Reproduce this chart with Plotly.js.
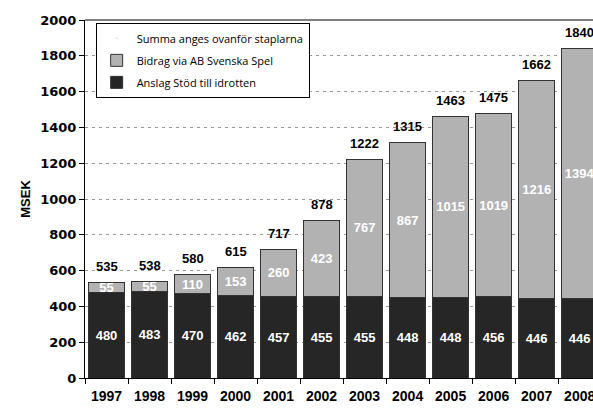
<!DOCTYPE html>
<html><head><meta charset="utf-8">
<script src="https://cdn.plot.ly/plotly-3.0.1.min.js"></script>
<style>html,body{margin:0;padding:0;overflow:hidden;background:#fff}#c{width:593px;height:408px}</style>
</head><body><div id="c"></div>
<script>
const years = ['1997','1998','1999','2000','2001','2002','2003','2004','2005','2006','2007','2008'];
const anslag = [480,483,470,462,457,455,455,448,448,456,446,446];
const bidrag = [55,55,110,153,260,423,767,867,1015,1019,1216,1394];
const totals = [535,538,580,615,717,878,1222,1315,1463,1475,1662,1840];

const font = 'Liberation Sans, Arial, sans-serif';
const traces = [
  {type:'bar', name:'Anslag Stöd till idrotten', x:years, y:anslag, text:anslag.map(String),
   textposition:'inside', insidetextanchor:'middle', textangle:0,
   textfont:{family:font, size:13, color:'#ffffff', weight:'bold'},
   marker:{color:'#262626', line:{color:'#333333', width:1}}, legendrank:3, legendgroup:'c', hoverinfo:'skip'},
  {type:'bar', name:'Bidrag via AB Svenska Spel', x:years, y:bidrag, text:bidrag.map(String),
   textposition:'inside', insidetextanchor:'middle', textangle:0,
   textfont:{family:font, size:13, color:'#ffffff', weight:'bold'},
   marker:{color:'#b2b2b2', line:{color:'#333333', width:1}}, legendrank:2, legendgroup:'b', hoverinfo:'skip'},
  {type:'scatter', mode:'markers', name:'Summa anges ovanför staplarna', x:[null], y:[null],
   marker:{opacity:0, size:1}, legendrank:1, legendgroup:'a', showlegend:true, hoverinfo:'skip'}
];
const annotations = years.map((yr,i)=>({x:i, y:totals[i], xref:'x', yref:'y', text:String(totals[i]),
  showarrow:false, yshift:16, font:{family:font, size:13, color:'#000', weight:'bold'}}));
const layout = {
  width:593, height:408,
  margin:{l:85, r:0, t:20, b:30},
  paper_bgcolor:'#fff', plot_bgcolor:'#fff',
  barmode:'stack', bargap:0.16,
  uniformtext:{mode:'show', minsize:13},
  showlegend:true,
  legend:{x:0.021, y:0.992, xanchor:'left', yanchor:'top', bgcolor:'#fff', bordercolor:'#000', borderwidth:1,
    font:{family:'Open Sans, DejaVu Sans, sans-serif', size:11, color:'#000'}, traceorder:'grouped', tracegroupgap:3},
  xaxis:{type:'category', range:[-0.5, 11.31], tickson:'boundaries', ticks:'outside', ticklen:5, tickcolor:'#000',
    showline:true, linecolor:'#000', linewidth:1, mirror:false, showgrid:false, tickangle:0, ticklabelstandoff:5,
    tickfont:{family:font, size:14, color:'#000', weight:'bold'}},
  yaxis:{range:[0,2000], dtick:200, ticks:'outside', ticklen:5, tickcolor:'#000',
    showline:true, linecolor:'#000', linewidth:1, showgrid:true, gridcolor:'#999', griddash:'3px,4px', gridwidth:1,
    zeroline:false,
    tickfont:{family:'DejaVu Sans, sans-serif', size:13, color:'#000', weight:'bold'},
    title:{text:'MSEK', font:{family:font, size:13, color:'#000', weight:'bold'}, standoff:6}},
  annotations:annotations,
  shapes:[{type:'line', xref:'paper', yref:'paper', x0:0, x1:1, y0:1, y1:1, line:{color:'#555', width:1.5}}]
};
Plotly.newPlot('c', traces, layout, {displayModeBar:false, staticPlot:true});
</script></body></html>
